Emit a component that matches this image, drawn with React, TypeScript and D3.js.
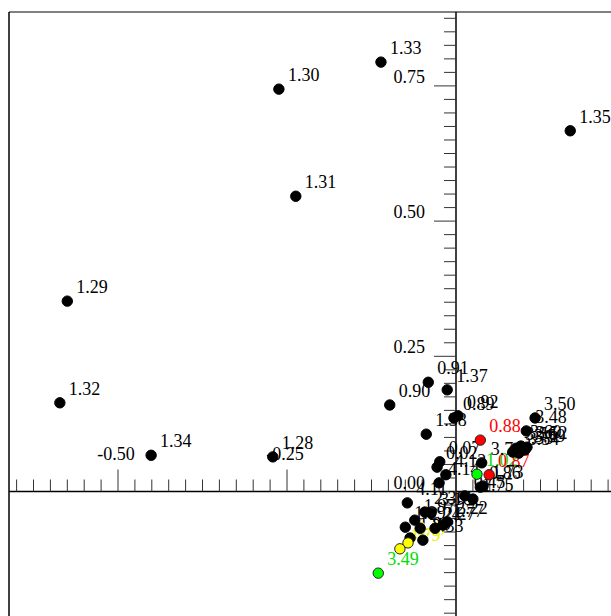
import React from "react";
import * as d3 from "d3";

const pointLabels = [
  "1.33", "1.30", "1.35", "1.31", "1.29", "1.32", "1.34", "1.28",
  "0.91", "1.37", "0.90", "0.89", "0.92", "1.38", "0.88", "3.50",
  "3.48", "3.56", "3.60", "3.59", "3.54", "3.53", "3.52", "1.02",
  "0.87", "3.71", "0.86", "1.73", "0.07", "0.02", "4.12", "4.14",
  "4.11", "0.45", "1.75", "2.36", "3.16", "1.97", "1.99", "2.24",
  "2.27", "1.77", "2.22", "1.83", "3.33", "3.47", "4.79", "3.49",
];
const xValues = [
  -0.111, -0.262, 0.169, -0.237, -0.575, -0.586, -0.451, -0.271,
  -0.041, -0.013, -0.098, -0.003, 0.003, -0.044, 0.036, 0.117,
  0.104, 0.089, 0.096, 0.102, 0.093, 0.084, 0.105, 0.031,
  0.049, 0.038, 0.036, 0.040, -0.024, -0.028, -0.015, -0.025,
  -0.072, 0.013, 0.025, -0.046, -0.037, -0.061, -0.075, -0.053,
  -0.031, -0.019, -0.013, -0.068, -0.049, -0.071, -0.083, -0.115,
];
const yValues = [
  0.794, 0.744, 0.667, 0.546, 0.352, 0.164, 0.067, 0.064,
  0.202, 0.188, 0.160, 0.136, 0.140, 0.106, 0.095, 0.136,
  0.112, 0.080, 0.084, 0.077, 0.071, 0.073, 0.082, 0.032,
  0.031, 0.053, 0.008, 0.010, 0.055, 0.045, 0.031, 0.016,
  -0.021, -0.008, -0.014, -0.038, -0.040, -0.053, -0.066, -0.068,
  -0.068, -0.062, -0.056, -0.086, -0.090, -0.095, -0.106, -0.151,
];
// 0 = black, 1 = red, 2 = green, 3 = yellow
const pointGroups = [
  0, 0, 0, 0, 0, 0, 0, 0,
  0, 0, 0, 0, 0, 0, 1, 0,
  0, 0, 0, 0, 0, 0, 0, 2,
  1, 0, 0, 0, 0, 0, 0, 0,
  0, 0, 0, 0, 0, 0, 0, 0,
  0, 0, 0, 0, 0, 3, 3, 2,
];
const xTickLabels = ["-0.50", "-0.25"];
const xTickValues = [-0.5, -0.25];
const yTickLabels = ["0.00", "0.25", "0.50", "0.75"];
const yTickValues = [0, 0.25, 0.5, 0.75];

const dotFill = ["#000000", "#ff0000", "#00ff00", "#ffff00"];
const dotStroke = ["#000000", "#222222", "#222222", "#222222"];
const textFill = ["#000000", "#ff0000", "#00e000", "#eeee00"];

const W = 611;
const H = 616;
const FONT = "'Liberation Serif', 'Times New Roman', serif";

export default function App() {
  const x = d3.scaleLinear().domain([0, 0.25]).range([456, 625]);
  const y = d3.scaleLinear().domain([0, 0.25]).range([491.5, 356.3]);
  const x0 = x(0);
  const y0 = y(0);
  const xMinor = d3.range(-26, 10).map((i) => i * 0.025);
  const yMinor = d3.range(-9, 36).map((i) => i * 0.025);
  const isMajor = (v: number) => Math.abs(v / 0.25 - Math.round(v / 0.25)) < 1e-6;
  const idx = d3.range(pointLabels.length);

  return (
    <svg
      width={W}
      height={H}
      style={{ position: "absolute", left: 0, top: 0, display: "block", background: "#fff" }}
    >
      {/* frame */}
      <line x1={9} y1={12} x2={W} y2={12} stroke="#808080" strokeWidth={2} />
      <line x1={9} y1={12} x2={9} y2={H} stroke="#000" strokeWidth={1.5} />

      {/* axes */}
      <line x1={9} y1={y0} x2={W} y2={y0} stroke="#000" strokeWidth={1.5} />
      <line x1={x0} y1={12} x2={x0} y2={H} stroke="#000" strokeWidth={1.5} />

      {xMinor.map((v, i) => (
        <line
          key={"xt" + i}
          x1={x(v)}
          x2={x(v)}
          y1={y0}
          y2={y0 - (isMajor(v) ? 22 : 12)}
          stroke="#333"
          strokeWidth={1}
        />
      ))}
      {yMinor.map((v, i) => (
        <line
          key={"yt" + i}
          x1={x0}
          x2={x0 - (isMajor(v) ? 22 : 12)}
          y1={y(v)}
          y2={y(v)}
          stroke="#333"
          strokeWidth={1}
        />
      ))}

      {xTickValues.map((v, i) => (
        <text
          key={"xl" + i}
          x={x(v) - 2}
          y={y0 - 32}
          textAnchor="middle"
          fontFamily={FONT}
          fontSize={18}
          fill="#000"
        >
          {xTickLabels[i]}
        </text>
      ))}
      {yTickValues.map((v, i) => (
        <text
          key={"yl" + i}
          x={425}
          y={y(v) - 3}
          textAnchor="end"
          fontFamily={FONT}
          fontSize={18}
          fill="#000"
        >
          {yTickLabels[i]}
        </text>
      ))}

      {/* point labels */}
      {idx.map((i) => (
        <text
          key={"pl" + i}
          x={x(xValues[i]) + 9}
          y={y(yValues[i]) - 8}
          fontFamily={FONT}
          fontSize={18}
          fill={textFill[pointGroups[i]]}
        >
          {pointLabels[i]}
        </text>
      ))}

      {/* points */}
      {idx.map((i) => (
        <circle
          key={"pt" + i}
          cx={x(xValues[i])}
          cy={y(yValues[i])}
          r={5.2}
          fill={dotFill[pointGroups[i]]}
          stroke={dotStroke[pointGroups[i]]}
          strokeWidth={1}
        />
      ))}
    </svg>
  );
}
